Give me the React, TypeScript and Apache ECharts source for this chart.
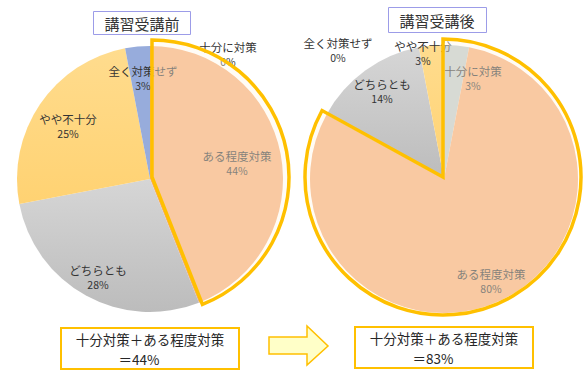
import React, { useEffect, useRef } from "react";
import * as echarts from "echarts";

const categories = ["十分に対策", "ある程度対策", "どちらとも", "やや不十分", "全く対策せず"];
const beforeValues = [0, 44, 28, 25, 3];
const afterValues = [3, 80, 14, 3, 0];
const titles = ["講習受講前", "講習受講後"];
const summaryLine1 = "十分対策＋ある程度対策";
const summaryBefore = "＝44%";
const summaryAfter = "＝83%";

const FONT = "'Noto Sans CJK JP', 'Noto Sans', sans-serif";

// layout (label centres per slice, in px)
const LABEL_POS_LEFT = [[228, 54], [237, 163], [98, 277], [68, 126], [143, 78]];
const LABEL_POS_RIGHT = [[473, 78], [491, 281], [382, 91], [423, 53], [338, 50]];

const sliceColors = [
  "#bcc6c6",
  "#f5ab73",
  new echarts.graphic.LinearGradient(0, 0, 0, 1, [
    { offset: 0, color: "#d6d6d6" },
    { offset: 1, color: "#bcbcbc" },
  ]),
  new echarts.graphic.LinearGradient(0, 0, 0, 1, [
    { offset: 0, color: "#ffdc8e" },
    { offset: 1, color: "#ffd272" },
  ]),
  "#97acdc",
];

function buildPie(values: number[], center: number[], radius: number, pos: number[][]) {
  return {
    type: "pie",
    z: 2,
    silent: true,
    center,
    radius: [0, radius],
    startAngle: 90,
    clockwise: true,
    avoidLabelOverlap: false,
    data: categories.map((name, i) => ({
      name,
      value: values[i],
      itemStyle: { color: sliceColors[i] },
    })),
    itemStyle: { borderWidth: 0 },
    label: {
      show: true,
      position: "inside",
      formatter: "{n|{b}}\n{v|{c}%}",
      rich: {
        n: { fontSize: 11.5, fontFamily: FONT, color: "#333", lineHeight: 15 },
        v: { fontSize: 10.5, fontFamily: FONT, color: "#333", lineHeight: 15 },
      },
    },
    labelLine: { show: false },
    labelLayout: (p: any) => ({
      x: pos[p.dataIndex][0],
      y: pos[p.dataIndex][1],
      align: "center",
      verticalAlign: "middle",
    }),
    emphasis: { disabled: true },
  };
}

function buildOverlay(values: number[], center: number[], radius: number) {
  const hi = values[0] + values[1];
  const rest = values.slice(2).reduce((a, b) => a + b, 0);
  return {
    type: "pie",
    z: 5,
    silent: true,
    center,
    radius: [0, radius],
    startAngle: 90,
    clockwise: true,
    label: { show: false },
    labelLine: { show: false },
    data: [
      {
        value: hi,
        itemStyle: {
          color: "rgba(255,247,232,0.4)",
          borderColor: "#ffc000",
          borderWidth: 3.5,
          borderJoin: "miter",
        },
      },
      { value: rest, itemStyle: { color: "rgba(0,0,0,0)", borderWidth: 0 } },
    ],
    emphasis: { disabled: true },
  };
}

export default function App() {
  const ref = useRef<HTMLDivElement>(null);
  useEffect(() => {
    if (!ref.current) return;
    const chart = echarts.init(ref.current, null, { renderer: "svg" });
    const txt = (x: number, y: number, text: string, size: number, fill: string) => ({
      type: "text",
      z: 11,
      x,
      y,
      style: { text, font: `${size}px ${FONT}`, fill, align: "center", verticalAlign: "middle" },
    });
    const option: any = {
      animation: false,
      backgroundColor: "#ffffff",
      series: [
        buildPie(beforeValues, [150, 179], 133, LABEL_POS_LEFT),
        buildOverlay(beforeValues, [152, 177], 137),
        buildPie(afterValues, [444, 179], 134, LABEL_POS_RIGHT),
        buildOverlay(afterValues, [443, 177], 138),
      ],
      graphic: [
        {
          type: "rect",
          z: 10,
          shape: { x: 93.5, y: 11.5, width: 97, height: 23 },
          style: { fill: "#fff", stroke: "#9c9ce8", lineWidth: 1 },
        },
        txt(142, 23, titles[0], 15, "#333"),
        {
          type: "rect",
          z: 10,
          shape: { x: 388.5, y: 7.5, width: 98, height: 25 },
          style: { fill: "#fff", stroke: "#9c9ce8", lineWidth: 1 },
        },
        txt(437, 20, titles[1], 15, "#333"),
        {
          type: "rect",
          z: 10,
          shape: { x: 61, y: 328, width: 178, height: 41 },
          style: { fill: "#fff", stroke: "#ffc000", lineWidth: 2 },
        },
        txt(150, 338.5, summaryLine1, 13.5, "#262626"),
        txt(139, 358.5, summaryBefore, 13.5, "#262626"),
        {
          type: "rect",
          z: 10,
          shape: { x: 355, y: 327, width: 178, height: 41 },
          style: { fill: "#fff", stroke: "#ffc000", lineWidth: 2 },
        },
        txt(444, 337.5, summaryLine1, 13.5, "#262626"),
        txt(433, 357.5, summaryAfter, 13.5, "#262626"),
        {
          type: "polygon",
          z: 10,
          shape: {
            points: [
              [269, 337],
              [307, 337],
              [307, 326],
              [328, 346],
              [307, 365],
              [307, 354],
              [269, 354],
            ],
          },
          style: { fill: "#ffffc8", stroke: "#ffc000", lineWidth: 1.5 },
        },
      ],
    };
    chart.setOption(option);
    return () => chart.dispose();
  }, []);
  return (
    <div
      ref={ref}
      style={{ position: "absolute", left: 0, top: 0, width: 588, height: 371 }}
    />
  );
}
